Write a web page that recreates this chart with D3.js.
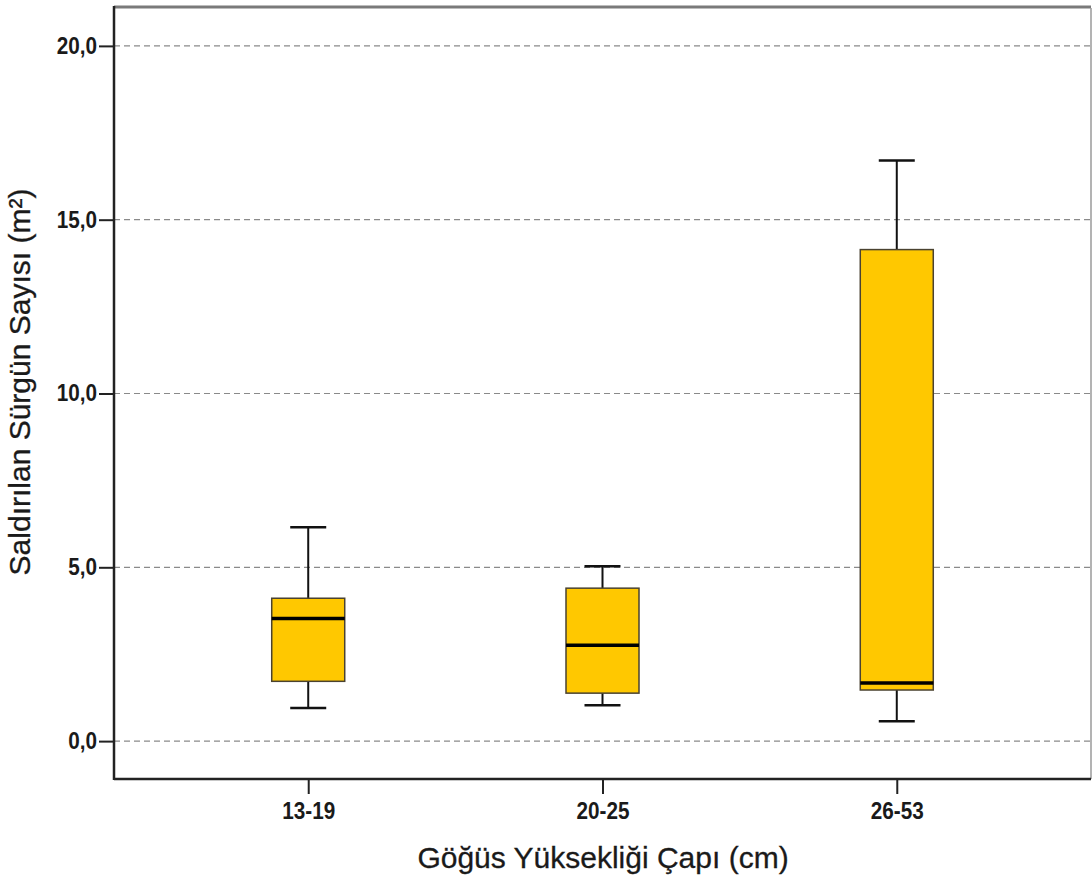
<!DOCTYPE html>
<html>
<head>
<meta charset="utf-8">
<script src="https://cdn.jsdelivr.net/npm/d3@7"></script>
<style>
  html, body { margin: 0; padding: 0; background: #fff; }
  svg { display: block; }
</style>
</head>
<body>
<svg id="chart" width="1092" height="879"></svg>
<script>
// Diameter-at-breast-height classes and box statistics for each
const categories = ["13-19", "20-25", "26-53"];
const whiskerLow  = [0.95, 1.03, 0.57];
const quartile1   = [1.72, 1.38, 1.47];
const medians     = [3.53, 2.76, 1.67];
const quartile3   = [4.11, 4.40, 14.14];
const whiskerHigh = [6.15, 5.03, 16.70];
const yTicks = [0, 5, 10, 15, 20];

const svg = d3.select("#chart");
const plot = { left: 114, right: 1091, top: 8, bottom: 779 };
const font = "Liberation Sans, Arial, sans-serif";
const squeeze = 0.9; // narrow the bold tick numerals a little

const x = d3.scalePoint()
  .domain(categories)
  .range([plot.left, plot.right])
  .padding(0.66);

const y = d3.scaleLinear()
  .domain([-1.09, 21.09])
  .range([plot.bottom, plot.top]);

const fmt = d => d.toFixed(1).replace(".", ",");

// Dashed reference lines
svg.append("g")
  .selectAll("line")
  .data(yTicks)
  .join("line")
  .attr("x1", plot.left)
  .attr("x2", plot.right)
  .attr("y1", d => y(d))
  .attr("y2", d => y(d))
  .attr("stroke", "#8a8a8a")
  .attr("stroke-width", 1.2)
  .attr("stroke-dasharray", "6,4");

// Frame: grey top and right, black left and bottom
svg.append("line").attr("x1", plot.left).attr("x2", plot.right)
  .attr("y1", plot.top - 1).attr("y2", plot.top - 1)
  .attr("stroke", "#7a7a7a").attr("stroke-width", 3);
svg.append("line").attr("x1", plot.right).attr("x2", plot.right)
  .attr("y1", plot.top).attr("y2", plot.bottom)
  .attr("stroke", "#9a9a9a").attr("stroke-width", 1.5);

// Axes
const yAxis = d3.axisLeft(y).tickValues(yTicks).tickFormat(fmt).tickSize(15).tickPadding(2);
const gy = svg.append("g").attr("transform", `translate(${plot.left},0)`).call(yAxis);
gy.select(".domain").remove();
gy.selectAll(".tick line").attr("stroke", "#222").attr("stroke-width", 2);
gy.selectAll(".tick text")
  .attr("font-family", font)
  .attr("font-weight", "bold")
  .attr("font-size", 23)
  .attr("fill", "#1a1a1a")
  .attr("x", -17 / squeeze)
  .attr("transform", `scale(${squeeze},1)`);

const xAxis = d3.axisBottom(x).tickSize(15).tickPadding(9);
const gx = svg.append("g").attr("transform", `translate(0,${plot.bottom})`).call(xAxis);
gx.select(".domain").remove();
gx.selectAll(".tick line").attr("stroke", "#222").attr("stroke-width", 2);
gx.selectAll(".tick text")
  .attr("font-family", font)
  .attr("font-weight", "bold")
  .attr("font-size", 23)
  .attr("fill", "#1a1a1a")
  .attr("transform", `scale(${squeeze},1)`);

svg.append("line").attr("x1", plot.left).attr("x2", plot.left)
  .attr("y1", plot.top - 2).attr("y2", plot.bottom + 1)
  .attr("stroke", "#222").attr("stroke-width", 2.5);
svg.append("line").attr("x1", plot.left).attr("x2", plot.right)
  .attr("y1", plot.bottom).attr("y2", plot.bottom)
  .attr("stroke", "#222").attr("stroke-width", 2.5);

// Box plots
const boxW = 73, capW = 36;
const rows = categories.map((c, i) => ({
  c, lo: whiskerLow[i], q1: quartile1[i], med: medians[i], q3: quartile3[i], hi: whiskerHigh[i]
}));

const g = svg.append("g").selectAll("g").data(rows).join("g");

g.append("line")
  .attr("x1", d => x(d.c)).attr("x2", d => x(d.c))
  .attr("y1", d => y(d.hi)).attr("y2", d => y(d.q3))
  .attr("stroke", "#111").attr("stroke-width", 2);
g.append("line")
  .attr("x1", d => x(d.c)).attr("x2", d => x(d.c))
  .attr("y1", d => y(d.q1)).attr("y2", d => y(d.lo))
  .attr("stroke", "#111").attr("stroke-width", 2);
g.append("line")
  .attr("x1", d => x(d.c) - capW / 2).attr("x2", d => x(d.c) + capW / 2)
  .attr("y1", d => y(d.hi)).attr("y2", d => y(d.hi))
  .attr("stroke", "#111").attr("stroke-width", 2.5);
g.append("line")
  .attr("x1", d => x(d.c) - capW / 2).attr("x2", d => x(d.c) + capW / 2)
  .attr("y1", d => y(d.lo)).attr("y2", d => y(d.lo))
  .attr("stroke", "#111").attr("stroke-width", 2.5);
g.append("rect")
  .attr("x", d => x(d.c) - boxW / 2)
  .attr("width", boxW)
  .attr("y", d => y(d.q3))
  .attr("height", d => y(d.q1) - y(d.q3))
  .attr("fill", "#FFC800")
  .attr("stroke", "#4a4230")
  .attr("stroke-width", 1.5);
g.append("line")
  .attr("x1", d => x(d.c) - boxW / 2).attr("x2", d => x(d.c) + boxW / 2)
  .attr("y1", d => y(d.med)).attr("y2", d => y(d.med))
  .attr("stroke", "#000").attr("stroke-width", 3.5);

// Axis titles
svg.append("text")
  .attr("x", 603)
  .attr("y", 868)
  .attr("text-anchor", "middle")
  .attr("font-family", font)
  .attr("font-size", 30)
  .attr("fill", "#1a1a1a")
  .attr("stroke", "#1a1a1a")
  .attr("stroke-width", 0.3)
  .text("Göğüs Yüksekliği Çapı (cm)");

svg.append("text")
  .attr("transform", "translate(30,382) rotate(-90)")
  .attr("text-anchor", "middle")
  .attr("font-family", font)
  .attr("font-size", 30)
  .attr("fill", "#1a1a1a")
  .attr("stroke", "#1a1a1a")
  .attr("stroke-width", 0.3)
  .text("Saldırılan Sürgün Sayısı (m²)");
</script>
</body>
</html>
